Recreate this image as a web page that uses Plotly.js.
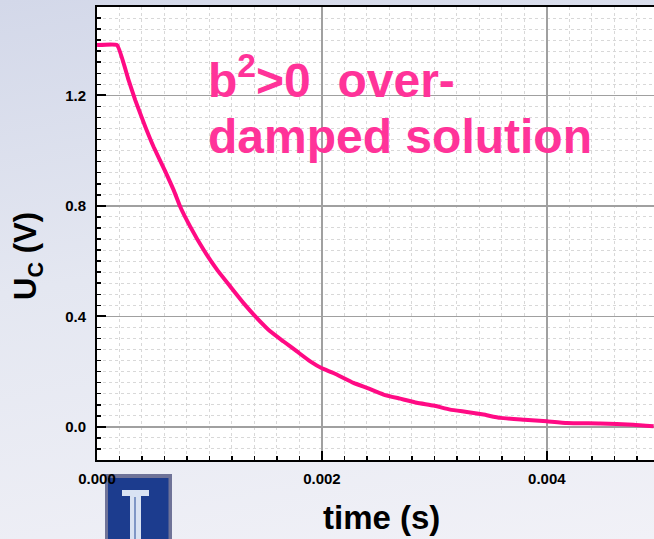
<!DOCTYPE html>
<html>
<head>
<meta charset="utf-8">
<script src="https://cdn.plot.ly/plotly-3.0.1.min.js"></script>
<style>
  html, body { margin:0; padding:0; }
  body { width:654px; height:539px; overflow:hidden;
         background: linear-gradient(170deg, #d3d8e9 0%, #e4e7f1 45%, #f1f1f7 100%); }
  #chart { width:654px; height:539px; }
</style>
</head>
<body>
<div id="chart"></div>
<script>
const timeS = [0, 0.000178, 0.000281, 0.00034, 0.000429, 0.000503, 0.000607, 0.000681,
  0.00074, 0.000829, 0.000948, 0.001067, 0.001185, 0.001303, 0.001422, 0.00154,
  0.001659, 0.001778, 0.001896, 0.002, 0.002103, 0.002281, 0.0024, 0.002548,
  0.002696, 0.002844, 0.002993, 0.00314, 0.003289, 0.003437, 0.003585, 0.0038,
  0.004, 0.004178, 0.004474, 0.00477, 0.00495];
const voltageV = [1.382, 1.382, 1.255, 1.183, 1.087, 1.014, 0.925, 0.858,
  0.797, 0.725, 0.641, 0.569, 0.508, 0.448, 0.394, 0.346,
  0.309, 0.273, 0.237, 0.212, 0.195, 0.159, 0.141, 0.117,
  0.102, 0.087, 0.077, 0.0625, 0.054, 0.0445, 0.0325, 0.026,
  0.020, 0.014, 0.012, 0.008, 0.002];

const xTickVals = [0, 0.002, 0.004];
const xTickText = ['0.000', '0.002', '0.004'];
const yTickVals = [0.0, 0.4, 0.8, 1.2];
const yTickText = ['0.0', '0.4', '0.8', '1.2'];

const FONT = 'Liberation Sans, Arial, Helvetica, sans-serif';
const PINK_LINE = '#ff0a84';
const PINK_TEXT = '#ff3399';

// pixel -> paper helpers for decorative shapes/annotations
const L = 97, R = 654, T = 7, B = 460;
const px = v => (v - L) / (R - L);
const py = v => (B - v) / (B - T);

const trace = {
  x: timeS, y: voltageV, type: 'scatter', mode: 'lines',
  line: { color: PINK_LINE, width: 4, shape: 'spline', smoothing: 0.35 }, hoverinfo: 'skip'
};

const axisCommon = {
  showline: true, linecolor: '#000', linewidth: 2,
  ticks: 'inside', ticklen: 9, tickwidth: 2, tickcolor: '#000',
  showgrid: true, gridcolor: '#a0a0a0', gridwidth: 1.5,
  zeroline: false,
  tickfont: { family: FONT, size: 15, color: '#000', weight: 700 },
  tickmode: 'array',
  minor: { ticks: 'inside', ticklen: 4, tickwidth: 1.5, tickcolor: '#000',
           showgrid: true, gridcolor: '#d8d8d8', griddash: 'dot', gridwidth: 1 }
};

const layout = {
  width: 654, height: 539,
  margin: { l: L, r: 0, t: T, b: 539 - B },
  paper_bgcolor: 'rgba(0,0,0,0)',
  plot_bgcolor: '#ffffff',
  showlegend: false,
  xaxis: Object.assign({}, axisCommon, {
    range: [0, 0.004953], tickvals: xTickVals, ticktext: xTickText,
    mirror: true, ticklabelstandoff: 4,
    minor: Object.assign({}, axisCommon.minor, { dtick: 0.0002, tick0: 0 })
  }),
  yaxis: Object.assign({}, axisCommon, {
    range: [-0.12, 1.52], tickvals: yTickVals, ticktext: yTickText,
    ticklabelstandoff: 6,
    minor: Object.assign({}, axisCommon.minor, { dtick: 0.04, tick0: 0 })
  }),
  annotations: [
    { xref: 'paper', yref: 'paper', x: px(206), y: py(98), xanchor: 'left', yanchor: 'bottom',
      yshift: -11, align: 'left', showarrow: false,
      text: 'b<sup>2</sup>&gt;0  over-',
      font: { family: FONT, size: 48, color: PINK_TEXT, weight: 700 } },
    { xref: 'paper', yref: 'paper', x: px(206), y: py(152), xanchor: 'left', yanchor: 'bottom',
      yshift: -13, align: 'left', showarrow: false,
      text: 'damped solution',
      font: { family: FONT, size: 48, color: PINK_TEXT, weight: 700 } },
    { xref: 'paper', yref: 'paper', x: px(381), y: py(517), xanchor: 'center', yanchor: 'middle',
      showarrow: false, text: 'time (s)',
      font: { family: FONT, size: 33, color: '#000', weight: 700 } },
    { xref: 'paper', yref: 'paper', x: px(28), y: py(256), xanchor: 'center', yanchor: 'middle',
      showarrow: false, textangle: -90, text: 'U<sub>C</sub> (V)',
      font: { family: FONT, size: 31, color: '#000', weight: 700 } }
  ],
  shapes: [
    // Illinois logo (decoration)
    { type: 'rect', xref: 'paper', yref: 'paper', x0: px(105), x1: px(172), y0: py(545), y1: py(474),
      fillcolor: '#6f7398', line: { width: 0 }, layer: 'below' },
    { type: 'rect', xref: 'paper', yref: 'paper', x0: px(108), x1: px(168.5), y0: py(545), y1: py(478),
      fillcolor: '#1c3c8e', line: { width: 0 }, layer: 'below' },
    { type: 'rect', xref: 'paper', yref: 'paper', x0: px(122), x1: px(149), y0: py(496), y1: py(490),
      fillcolor: '#d9e3f3', line: { width: 0 }, layer: 'below' },
    { type: 'rect', xref: 'paper', yref: 'paper', x0: px(130), x1: px(141), y0: py(545), y1: py(496),
      fillcolor: '#d9e3f3', line: { width: 0 }, layer: 'below' },
    { type: 'rect', xref: 'paper', yref: 'paper', x0: px(134), x1: px(136), y0: py(545), y1: py(497),
      fillcolor: '#7f97c6', line: { width: 0 }, layer: 'below' }
  ]
};

Plotly.newPlot('chart', [trace], layout, { displayModeBar: false, staticPlot: true });
</script>
</body>
</html>
